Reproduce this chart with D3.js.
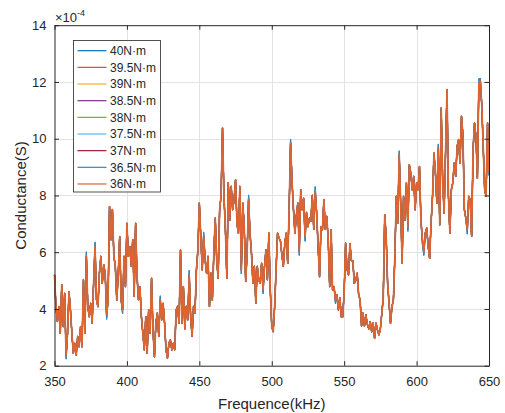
<!DOCTYPE html>
<html>
<head>
<meta charset="utf-8">
<script src="https://cdn.jsdelivr.net/npm/d3@7"></script>
<style>
  html, body { margin: 0; padding: 0; background: #fff; }
  svg { display: block; font-family: "Liberation Sans", Arial, Helvetica, sans-serif; }
</style>
</head>
<body>
<svg id="chart" width="505" height="413"></svg>
<script>
// Frequency sweep, 1 kHz step
const freqKHz = d3.range(350, 651);

// Conductance in units of 1e-4 S (all torque levels overlap almost exactly)
const conductance = [
  5.2, 4.08, 3.56, 4.08, 3.14, 4.85, 3.38, 4.55, 2.36, 3.14,
  4.61, 3.97, 3.14, 2.44, 2.79, 2.38, 3.03, 2.67, 3.38, 2.67,
  5.03, 3.14, 5.85, 4.08, 3.73, 4.2, 3.5, 4.91, 6.2, 4.32,
  4.08, 5.26, 5.85, 4.91, 5.55, 5.26, 3.79, 4.32, 7.61, 6.44,
  7.5, 5.85, 5.5, 4.32, 5.2, 6.55, 4.32, 3.97, 5.85, 4.79,
  7.02, 5.85, 6.2, 5.5, 6.44, 4.44, 7.02, 5.14, 4.32, 4.79,
  3.73, 3.14, 2.56, 3.73, 2.44, 3.97, 3.14, 5.08, 3.26, 2.32,
  3.5, 3.85, 3.03, 4.32, 3.62, 4.2, 3.5, 2.56, 2.27, 2.79,
  2.91, 2.56, 2.79, 2.56, 3.97, 4.09, 3.5, 6.08, 3.5, 4.79,
  3.3, 4.09, 3.62, 5.2, 3.73, 3.03, 4.09, 3.85, 5.38, 6.08,
  7.73, 6.56, 5.38, 6.56, 5.73, 5.26, 5.85, 4.09, 5.26, 4.32,
  5.97, 7.2, 5.73, 5.08, 7.5, 7.97, 10.38, 8.0, 6.79, 5.08,
  8.44, 7.14, 8.32, 7.5, 7.85, 8.55, 7.0, 6.67, 8.32, 5.38,
  7.73, 6.91, 4.97, 5.97, 7.85, 6.67, 5.97, 4.91, 5.5, 4.2,
  5.5, 5.03, 4.91, 5.61, 4.67, 5.5, 6.08, 5.03, 6.67, 4.67,
  3.38, 3.2, 4.09, 5.4, 6.67, 6.5, 6.4, 5.9, 5.5, 6.32,
  6.67, 5.61, 7.5, 9.85, 8.5, 7.5, 6.67, 7.3, 7.73, 6.03,
  8.2, 7.5, 7.9, 6.55, 7.4, 6.9, 7.2, 7.1, 8.0, 6.8,
  8.14, 7.4, 6.2, 5.14, 6.9, 6.79, 7.85, 6.8, 7.26, 6.4,
  4.79, 6.79, 4.67, 4.79, 4.32, 4.5, 3.97, 4.4, 3.73, 3.73,
  4.6, 6.32, 5.4, 5.2, 6.3, 5.7, 5.7, 4.9, 5.0, 5.26,
  4.5, 4.32, 3.4, 3.85, 3.4, 3.79, 3.45, 3.3, 3.55, 3.2,
  3.5, 2.97, 3.5, 3.26, 3.09, 3.3, 3.85, 4.4, 7.32, 6.55,
  4.9, 4.2, 3.5, 4.08, 4.32, 5.85, 7.97, 7.03, 9.44, 7.73,
  5.62, 7.97, 7.14, 8.44, 6.9, 9.08, 8.79, 8.2, 8.67, 7.5,
  8.44, 8.2, 9.02, 7.14, 6.44, 6.03, 6.67, 6.85, 6.2, 5.79,
  7.03, 7.97, 9.49, 8.79, 7.73, 9.67, 6.97, 11.08, 8.55, 7.38,
  9.5, 11.73, 7.97, 6.67, 8.2, 8.44, 9.14, 8.67, 9.73, 9.97,
  9.14, 10.79, 10.14, 7.5, 7.2, 6.79, 7.97, 7.85, 6.56, 9.61,
  10.55, 10.08, 8.61, 11.96, 12.02, 11.2, 9.73, 8.2, 7.97, 10.55,
  8.8
];

// Points where the 40 N·m and 36.5 N·m sweeps reach slightly further than the rest [kHz, value]
const tips40 = [
  [358, 2.25], [372, 6.0], [378, 6.35], [386, 3.65], [397, 3.85], [423, 4.45],
  [443, 5.35], [453, 6.7], [479, 5.25], [484, 8.0], [494, 4.55],
  [513, 9.97], [519, 5.9], [523, 6.4], [530, 8.3], [544, 4.2],
  [588, 9.56], [594, 6.75], [604, 6.3], [605, 5.9], [615, 9.8],
  [635, 6.65], [643, 12.1], [644, 12.12], [650, 8.7]
];

const seriesNames = ["40N\u00b7m", "39.5N\u00b7m", "39N\u00b7m", "38.5N\u00b7m", "38N\u00b7m",
                     "37.5N\u00b7m", "37N\u00b7m", "36.5N\u00b7m", "36N\u00b7m"];
const seriesColors = ["#0072BD", "#D95319", "#EDB120", "#7E2F8E", "#77AC30",
                      "#4DBEEE", "#A2142F", "#2E86CF", "#DF6530"];

const xTicks = [350, 400, 450, 500, 550, 600, 650];
const yTicks = [2, 4, 6, 8, 10, 12, 14];

// Build each series' points
const tipMap = new Map(tips40);
const seriesData = seriesNames.map((name, i) => {
  const useTips = (i === 0 || i === 7);
  return {
    name,
    color: seriesColors[i],
    top: i === seriesNames.length - 1,
    points: freqKHz.map((f, k) => ({
      f,
      v: useTips && tipMap.has(f) ? tipMap.get(f) : conductance[k]
    }))
  };
});

const svg = d3.select("#chart");
const L = 54.5, R = 489, T = 25.2, B = 365.7;

const x = d3.scaleLinear().domain([350, 650]).range([L, R]);
const y = d3.scaleLinear().domain([2, 14]).range([B, T]);

// Grid
const grid = svg.append("g").attr("stroke", "#e3e3e3").attr("stroke-width", 1);
grid.selectAll(".gx").data(xTicks.slice(1, -1)).join("line")
  .attr("x1", d => Math.round(x(d)) + 0.5).attr("x2", d => Math.round(x(d)) + 0.5)
  .attr("y1", T).attr("y2", B);
grid.selectAll(".gy").data(yTicks.slice(1, -1)).join("line")
  .attr("y1", d => Math.round(y(d)) + 0.5).attr("y2", d => Math.round(y(d)) + 0.5)
  .attr("x1", L).attr("x2", R);

// Series lines; the last sweep is drawn on top and covers the others
const line = d3.line().x(d => x(d.f)).y(d => y(d.v));
svg.append("g").selectAll("path").data(seriesData).join("path")
  .attr("d", d => line(d.points))
  .attr("fill", "none")
  .attr("stroke", d => d.color)
  .attr("stroke-width", d => d.top ? 1.7 : 1.2)
  .attr("stroke-linejoin", "round");

// Axes (box with inward ticks on all sides)
const axisColor = "#262626";
function styleAxis(g) {
  g.select(".domain").attr("stroke", axisColor).attr("stroke-width", 1);
  g.selectAll(".tick line").attr("stroke", axisColor).attr("stroke-width", 1);
  g.selectAll(".tick text").attr("fill", axisColor).attr("font-size", 13)
    .attr("font-family", "'Liberation Sans', Arial, sans-serif");
}
svg.append("g").attr("transform", `translate(0,${B})`)
  .call(d3.axisBottom(x).tickValues(xTicks).tickSizeInner(-4.5).tickSizeOuter(0).tickPadding(11))
  .call(styleAxis);
svg.append("g").attr("transform", `translate(0,${T})`)
  .call(d3.axisTop(x).tickValues(xTicks).tickSizeInner(-4.5).tickSizeOuter(0).tickFormat(""))
  .call(styleAxis);
svg.append("g").attr("transform", `translate(${L},0)`)
  .call(d3.axisLeft(y).tickValues(yTicks).tickSizeInner(-4.5).tickSizeOuter(0).tickPadding(8))
  .call(styleAxis);
svg.append("g").attr("transform", `translate(${R},0)`)
  .call(d3.axisRight(y).tickValues(yTicks).tickSizeInner(-4.5).tickSizeOuter(0).tickFormat(""))
  .call(styleAxis);

// Exponent label
const expo = svg.append("text").attr("x", 55).attr("y", 22).attr("fill", axisColor)
  .attr("font-size", 13);
expo.append("tspan").text("\u00d710");
expo.append("tspan").attr("font-size", 9).attr("dy", -6).text("-4");

// Axis titles
svg.append("text").attr("x", (L + R) / 2).attr("y", 408.5).attr("text-anchor", "middle")
  .attr("font-size", 15).attr("fill", axisColor).text("Frequence(kHz)");
svg.append("text").attr("transform", `translate(26,${(T + B) / 2}) rotate(-90)`)
  .attr("text-anchor", "middle").attr("font-size", 15).attr("fill", axisColor)
  .text("Conductance(S)");

// Legend
const lg = svg.append("g");
lg.append("rect").attr("x", 73.5).attr("y", 40.5).attr("width", 87).attr("height", 151.5)
  .attr("fill", "#fff").attr("stroke", axisColor).attr("stroke-width", 0.8);
const rows = lg.selectAll(".row").data(seriesData).join("g")
  .attr("transform", (d, i) => `translate(0,${50.7 + i * 16.66})`);
rows.append("line").attr("x1", 77.5).attr("x2", 106.5).attr("y1", 0).attr("y2", 0)
  .attr("stroke", d => d.color).attr("stroke-width", 1.2);
rows.append("text").attr("x", 110).attr("y", 0).attr("dy", "0.35em")
  .attr("font-size", 12).attr("fill", axisColor).text(d => d.name);
</script>
</body>
</html>
